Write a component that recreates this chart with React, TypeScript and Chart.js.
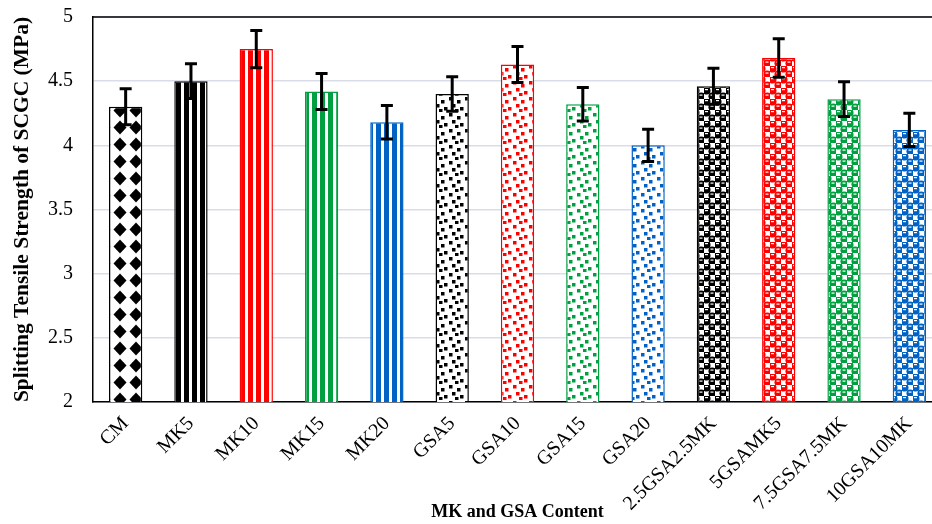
import React, { useEffect, useRef } from "react";
import { Chart, registerables } from "chart.js";

Chart.register(...registerables);

const categories = ["CM", "MK5", "MK10", "MK15", "MK20", "GSA5", "GSA10", "GSA15", "GSA20", "2.5GSA2.5MK", "5GSAMK5", "7.5GSA7.5MK", "10GSA10MK"];
const strength = [4.3, 4.5, 4.75, 4.42, 4.18, 4.4, 4.63, 4.32, 4.0, 4.46, 4.68, 4.36, 4.12];
const errors = [0.14, 0.135, 0.145, 0.14, 0.13, 0.135, 0.14, 0.13, 0.125, 0.14, 0.15, 0.135, 0.13];
const barColors = ["#000000", "#000000", "#ff0000", "#00a040", "#0062c4", "#000000", "#ff0000", "#00a040", "#0062c4", "#000000", "#ff0000", "#00a040", "#0062c4"];
const patternKinds = ["diamond", "stripe", "stripe", "stripe", "stripe", "confetti", "confetti", "confetti", "confetti", "sphere", "sphere", "sphere", "sphere"];

const yTitle = "Splitting Tensile Strength of SCGC (MPa)";
const xTitle = "MK and GSA Content";
const FONT = "'Liberation Serif', 'Times New Roman', serif";

function makePattern(ctx: CanvasRenderingContext2D, kind: string, color: string) {
  const t = document.createElement("canvas");
  let w = 8, h = 8;
  if (kind === "diamond") { w = 16; h = 17; }
  if (kind === "confetti") { w = 16; h = 16; }
  if (kind === "sphere") { w = 11; h = 11; }
  t.width = w; t.height = h;
  const c = t.getContext("2d")!;
  c.fillStyle = "#ffffff";
  c.fillRect(0, 0, w, h);
  c.fillStyle = color;
  if (kind === "stripe") {
    c.fillRect(0, 0, 5, h);
  } else if (kind === "diamond") {
    c.beginPath();
    c.moveTo(8, 1.5); c.lineTo(14.5, 8.5); c.lineTo(8, 15.5); c.lineTo(1.5, 8.5); c.closePath();
    c.fill();
    c.fillRect(4.5, 5.5, 7, 6);
  } else if (kind === "confetti") {
    const sq = [[1, 1], [9, 4], [4, 8], [12, 11], [7, 13]];
    sq.forEach(([x, y]) => c.fillRect(x, y, 3.5, 3.5));
  } else if (kind === "sphere") {
    c.fillRect(0, 0, 5.5, 5.5);
    c.fillRect(5.5, 5.5, 5.5, 5.5);
    c.beginPath(); c.arc(2.75, 2.75, 3.8, 0, Math.PI * 2); c.fill();
    c.beginPath(); c.arc(8.25, 8.25, 3.8, 0, Math.PI * 2); c.fill();
    c.fillStyle = "#ffffff";
    c.fillRect(1, 1, 3, 1.2);
    c.fillRect(6.5, 6.5, 3, 1.2);
  }
  return ctx.createPattern(t, "repeat")!;
}

const errorBarPlugin = {
  id: "errorBars",
  afterDatasetsDraw(chart: any) {
    const ctx = chart.ctx;
    const meta = chart.getDatasetMeta(0);
    const ys = chart.scales.y;
    ctx.save();
    ctx.strokeStyle = "#000000";
    ctx.lineWidth = 3;
    meta.data.forEach((bar: any, i: number) => {
      const x = bar.x;
      const yt = ys.getPixelForValue(strength[i] + errors[i]);
      const yb = ys.getPixelForValue(strength[i] - errors[i]);
      ctx.beginPath();
      ctx.moveTo(x, yt); ctx.lineTo(x, yb);
      ctx.moveTo(x - 6, yt); ctx.lineTo(x + 6, yt);
      ctx.moveTo(x - 6, yb); ctx.lineTo(x + 6, yb);
      ctx.stroke();
    });
    ctx.restore();
  },
};

const framePlugin = {
  id: "frame",
  afterDraw(chart: any) {
    const { ctx, chartArea } = chart;
    ctx.save();
    ctx.strokeStyle = "#000000";
    ctx.lineWidth = 1.5;
    ctx.beginPath();
    ctx.moveTo(chartArea.left, chartArea.top);
    ctx.lineTo(chartArea.right, chartArea.top);
    ctx.lineTo(chartArea.right, chartArea.bottom);
    ctx.stroke();
    ctx.restore();
  },
};

export default function App() {
  const ref = useRef<HTMLCanvasElement>(null);
  useEffect(() => {
    const canvas = ref.current!;
    const ctx = canvas.getContext("2d")!;
    const patterns = categories.map((_, i) => makePattern(ctx, patternKinds[i], barColors[i]));
    const chart = new Chart(canvas, {
      type: "bar",
      data: {
        labels: categories,
        datasets: [{
          data: strength,
          backgroundColor: patterns,
          borderColor: barColors,
          borderWidth: 1.5,
          barPercentage: 0.51,
          categoryPercentage: 1,
        }],
      },
      options: {
        animation: false,
        responsive: true,
        maintainAspectRatio: false,
        layout: { padding: { top: 17, right: 2, left: 0, bottom: 0 } },
        plugins: { legend: { display: false }, tooltip: { enabled: false } },
        scales: {
          x: {
            grid: { display: false, drawTicks: false },
            border: { color: "#000000", width: 1.5 },
            ticks: { color: "#000000", font: { family: FONT, size: 20 }, minRotation: 45, maxRotation: 45, padding: 10 },
            title: { display: true, text: xTitle, color: "#000000", font: { family: FONT, size: 18, weight: "bold" }, padding: { top: 0, bottom: 1 } },
            afterFit: (s: any) => { s.height = 122; s.paddingLeft = 0; s.paddingRight = 0; },
          },
          y: {
            min: 2, max: 5,
            grid: { color: "#dadde8", lineWidth: 1.5, drawTicks: false },
            border: { color: "#000000", width: 1.5 },
            ticks: { stepSize: 0.5, color: "#000000", font: { family: FONT, size: 20 }, padding: 20, callback: (v: any) => String(Number(v)) },
            title: { display: true, text: yTitle, color: "#000000", font: { family: FONT, size: 21.5, weight: "bold" }, padding: { top: 10, bottom: 0 } },
            afterFit: (s: any) => { s.width = 93; s.paddingTop = 0; s.paddingBottom = 0; },
          },
        },
      },
      plugins: [errorBarPlugin, framePlugin],
    });
    return () => chart.destroy();
  }, []);
  return (
    <div style={{ position: "fixed", left: 0, top: 0, width: 932, height: 524, overflow: "hidden", background: "#ffffff" }}>
      <div style={{ position: "relative", width: 944, height: 524 }}>
        <canvas ref={ref} />
      </div>
    </div>
  );
}
